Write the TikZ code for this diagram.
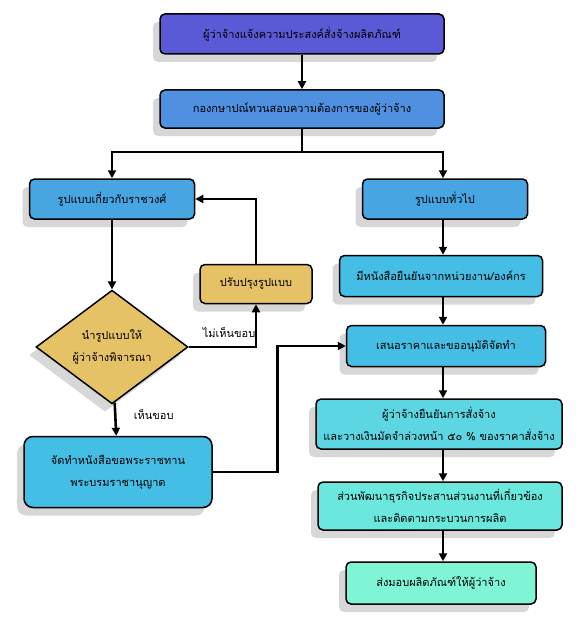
\documentclass[tikz,border=0pt]{standalone}
\usepackage{fontspec}
\newfontfamily\thaifont[Script=Thai]{Loma}
\usepackage{xcolor}
\usetikzlibrary{shapes.geometric,shadows,arrows.meta}
\definecolor{purpbox}{HTML}{5A5AD6}
\definecolor{bluebox}{HTML}{4F90E0}
\definecolor{skybox}{HTML}{47A5E2}
\definecolor{goldbox}{HTML}{E6C266}
\definecolor{cyanbox}{HTML}{45BEE6}
\definecolor{turqbox}{HTML}{5CD6E2}
\definecolor{aquabox}{HTML}{6AE8DE}
\definecolor{mintbox}{HTML}{80F5D6}

\begin{document}
\begin{tikzpicture}[x=1pt,y=-1pt,
  box/.style={draw=black, line width=1.5pt, rounded corners=5pt, align=center, inner sep=0pt,
    font=\thaifont\fontsize{11}{22}\selectfont,
    drop shadow={shadow xshift=-7pt,shadow yshift=-8pt,fill=black!45,opacity=.35}},
  flow/.style={line width=2.6pt, -{Triangle[length=8pt,width=8pt]}}]
\useasboundingbox (0,0) rectangle (584,623);

% left and top
\node[box, fill=purpbox, minimum width=284, minimum height=40] (want) at (302,34) {ผู้ว่าจ้างแจ้งความประสงค์สั่งจ้างผลิตภัณฑ์};
\node[box, fill=bluebox, minimum width=284, minimum height=38] (check) at (302,109) {กองกษาปณ์ทวนสอบความต้องการของผู้ว่าจ้าง};
\node[box, fill=skybox, minimum width=165, minimum height=40] (royal) at (112,199) {รูปแบบเกี่ยวกับราชวงศ์};
\node[box, fill=goldbox, minimum width=112, minimum height=39] (revise) at (256,284) {ปรับปรุงรูปแบบ};
\node[box, diamond, rounded corners=0pt, fill=goldbox, minimum width=152, minimum height=105] (propose) at (112,347) {นำรูปแบบให้\\ผู้ว่าจ้างพิจารณา};
\node[box, fill=cyanbox, minimum width=188, minimum height=71, rounded corners=9pt] (letter) at (118,472) {จัดทำหนังสือขอพระราชทาน\\พระบรมราชานุญาต};

% right column
\node[box, fill=skybox, minimum width=165, minimum height=40] (general) at (445,199) {รูปแบบทั่วไป};
\node[box, fill=cyanbox, minimum width=203, minimum height=41] (confirm) at (441,276) {มีหนังสือยืนยันจากหน่วยงาน/องค์กร};
\node[box, fill=cyanbox, minimum width=199, minimum height=41] (price) at (446,346) {เสนอราคาและขออนุมัติจัดทำ};
\node[box, fill=turqbox, minimum width=246, minimum height=50] (deposit) at (439,424) {ผู้ว่าจ้างยืนยันการสั่งจ้าง\\และวางเงินมัดจำล่วงหน้า ๕๐ \% ของราคาสั่งจ้าง};
\node[box, fill=aquabox, minimum width=244, minimum height=48] (follow) at (440,506) {ส่วนพัฒนาธุรกิจประสานส่วนงานที่เกี่ยวข้อง\\และติดตามกระบวนการผลิต};
\node[box, fill=mintbox, minimum width=190, minimum height=42] (deliver) at (441,583) {ส่งมอบผลิตภัณฑ์ให้ผู้ว่าจ้าง};

\coordinate (split) at (302,152);
\coordinate (rcol) at (443,0);
\draw[flow] (want) -- (check);
\draw[flow] (check) -- (split) -| (royal);
\draw[flow] (split) -| (rcol |- general.north);
\draw[flow] (royal) -- (propose);
\draw[flow] (propose.east) -| node[pos=0.3, above=5pt, font=\thaifont\fontsize{11}{12}\selectfont]{ไม่เห็นขอบ} (revise);
\draw[flow] (revise) |- (royal);
\draw[flow] (propose) -- node[pos=0.35, right=14pt, font=\thaifont\fontsize{11}{12}\selectfont]{เห็นขอบ} (letter);
\draw[flow] (letter.east) -- ++(65,0) |- (price);
\draw[flow] (rcol |- general.south) -- (rcol |- confirm.north);
\draw[flow] (rcol |- confirm.south) -- (rcol |- price.north);
\draw[flow] (rcol |- price.south) -- (rcol |- deposit.north);
\draw[flow] (rcol |- deposit.south) -- (rcol |- follow.north);
\draw[flow] (rcol |- follow.south) -- (rcol |- deliver.north);
\end{tikzpicture}
\end{document}
